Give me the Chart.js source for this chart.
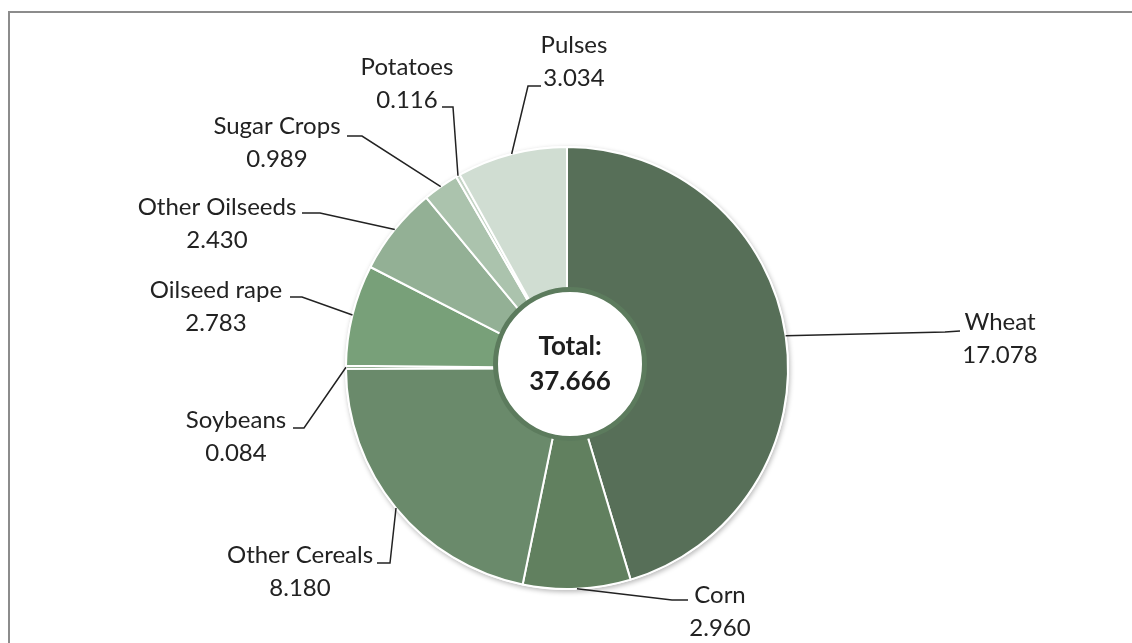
<!DOCTYPE html>
<html>
<head>
<meta charset="utf-8">
<script src="https://cdn.jsdelivr.net/npm/chart.js@4/dist/chart.umd.min.js"></script>
<style>
  html, body { margin: 0; padding: 0; background: #fff; }
  #caixa { width: 1132px; height: 643px; }
</style>
</head>
<body>
<div id="caixa"><canvas id="meu-grafico"></canvas></div>
<script>
// dados
var culturas = ['Wheat', 'Corn', 'Other Cereals', 'Soybeans', 'Oilseed rape', 'Other Oilseeds', 'Sugar Crops', 'Potatoes', 'Pulses'];
var valores = [17.078, 2.960, 8.180, 0.084, 2.783, 2.430, 0.989, 0.116, 3.034];
var total = 37.666;

var cores = ['#576f58', '#61805f', '#6a8a6b', '#70946f', '#78a079', '#93b095', '#abc3ad', '#c3d3c4', '#d0ddd2'];

// posicao dos rotulos: x = centro do texto, y = linha de base do nome,
// c = cotovelo da linha guia, f = fim da linha guia
var posRotulos = [
  { x: 1000, y: 330, c: [945, 332], f: [960, 331] },
  { x: 720, y: 603, c: [672, 600], f: [688, 600] },
  { x: 300, y: 563, c: [390, 563], f: [377, 563] },
  { x: 236, y: 428, c: [304, 428], f: [293, 428] },
  { x: 216, y: 298, c: [302, 297], f: [290, 297] },
  { x: 217, y: 215, c: [320, 213], f: [302, 213] },
  { x: 277, y: 134, c: [362, 136], f: [347, 136] },
  { x: 407, y: 75, c: [453, 107], f: [442, 107] },
  { x: 574, y: 53, c: [528, 86], f: [541, 86] }
];

var moldura = {
  id: 'moldura',
  beforeDraw: function (chart) {
    var ctx = chart.ctx;
    ctx.save();
    ctx.strokeStyle = '#8c8c8c';
    ctx.lineWidth = 2;
    ctx.strokeRect(9, 12, 1200, 700);
    ctx.restore();
  },
  beforeDatasetsDraw: function (chart) {
    // sombra leve em volta da pizza
    var arc = chart.getDatasetMeta(0).data[0];
    var ctx = chart.ctx;
    ctx.save();
    ctx.shadowColor = 'rgba(0,0,0,0.28)';
    ctx.shadowBlur = 5;
    ctx.shadowOffsetX = 1;
    ctx.shadowOffsetY = 2;
    ctx.fillStyle = '#fff';
    ctx.beginPath();
    ctx.arc(arc.x, arc.y, arc.outerRadius + 1, 0, Math.PI * 2);
    ctx.fill();
    ctx.restore();
  }
};

var rotulos = {
  id: 'rotulos',
  afterDatasetsDraw: function (chart) {
    var ctx = chart.ctx;
    var arcs = chart.getDatasetMeta(0).data;
    ctx.save();
    arcs.forEach(function (arc, i) {
      var p = posRotulos[i];
      var meio = (arc.startAngle + arc.endAngle) / 2;
      var ax = arc.x + Math.cos(meio) * arc.outerRadius;
      var ay = arc.y + Math.sin(meio) * arc.outerRadius;
      ctx.strokeStyle = '#222';
      ctx.lineWidth = 1.5;
      ctx.beginPath();
      ctx.moveTo(ax, ay);
      ctx.lineTo(p.c[0], p.c[1]);
      ctx.lineTo(p.f[0], p.f[1]);
      ctx.stroke();

      ctx.fillStyle = '#222';
      ctx.font = '24px Lato';
      ctx.textAlign = 'center';
      ctx.textBaseline = 'alphabetic';
      ctx.fillText(culturas[i], p.x, p.y);
      ctx.fillText(valores[i].toFixed(3), p.x, p.y + 33);
    });

    // circulo central com o total
    var a = arcs[0];
    var cx = a.x + 3, cy = a.y - 4;
    ctx.beginPath();
    ctx.arc(cx, cy, 74.5, 0, Math.PI * 2);
    ctx.fillStyle = '#fff';
    ctx.fill();
    ctx.lineWidth = 5;
    ctx.strokeStyle = '#5c7b5d';
    ctx.stroke();
    ctx.fillStyle = '#1e1e1e';
    ctx.font = 'bold 26px Lato';
    ctx.textAlign = 'center';
    ctx.fillText('Total:', cx, cy - 9);
    ctx.fillText(total.toFixed(3), cx, cy + 26);
    ctx.restore();
  }
};

var ctx = document.getElementById('meu-grafico').getContext('2d');
var myChart = new Chart(ctx, {
  type: 'doughnut',
  data: {
    labels: culturas,
    datasets: [{
      data: valores,
      backgroundColor: cores,
      borderColor: '#ffffff',
      borderWidth: 2
    }]
  },
  options: {
    responsive: true,
    maintainAspectRatio: false,
    animation: false,
    cutout: '30%',
    layout: { padding: { top: 146, bottom: 53, left: 100, right: 98 } },
    plugins: {
      legend: { display: false },
      tooltip: { enabled: false }
    }
  },
  plugins: [moldura, rotulos]
});
</script>
</body>
</html>
